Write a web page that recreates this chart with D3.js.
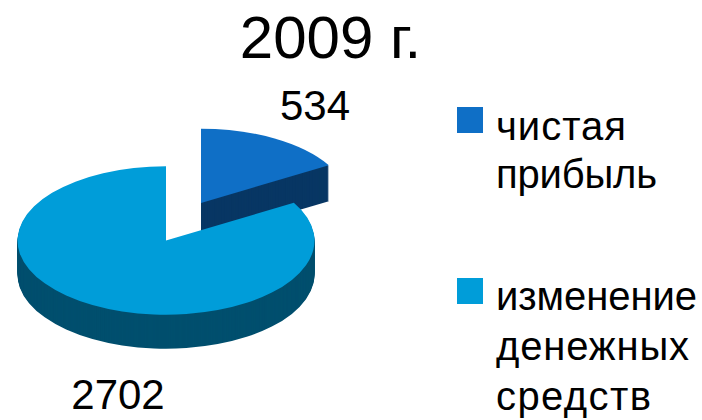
<!DOCTYPE html>
<html>
<head>
<meta charset="utf-8">
<script src="https://cdn.jsdelivr.net/npm/d3@7"></script>
<style>
  html, body { margin: 0; padding: 0; background: #fff; }
  svg { display: block; }
  text { font-family: "Liberation Sans", Arial, sans-serif; fill: #000; }
</style>
</head>
<body>
<svg id="canvas" width="702" height="420"></svg>
<script>
'use strict';

const title = '2009 г.';
const categories = ['чистая прибыль', 'изменение денежных средств'];
const values = [534, 2702];
const legendLines = [['чистая', 'прибыль'], ['изменение', 'денежных', 'средств']];
const topColors = ['#0f6fc6', '#009dd9'];
const sideColors = ['#083764', '#004f6e'];

const width = 702, height = 420;
const radius = 148.5;
const tilt = 0.5;

/* each slice has its own centre, the small one is pulled out of the pie */
const centers = [{x: 201, y: 203, depth: 36}, {x: 166, y: 240.5, depth: 34}];
const labelPos = [{x: 315, y: 120}, {x: 118, y: 409}];

const svg = d3.select('#canvas');
const topColor = d3.scaleOrdinal().domain(categories).range(topColors);
const sideColor = d3.scaleOrdinal().domain(categories).range(sideColors);

const pie = d3.pie().sort(null).value(d => d.value);
const slices = pie(categories.map((c, i) => ({name: c, value: values[i]})));
const arc = d3.arc().innerRadius(0).outerRadius(radius);

/* title */
svg.append('text')
  .attr('x', 330.5).attr('y', 58)
  .attr('text-anchor', 'middle')
  .style('font-size', '60px')
  .text(title);

/* pie: the side wall is a stack of copies of the slice, the top goes last */
slices.forEach((s, i) => {
  const c = centers[i];
  const g = svg.append('g').attr('class', 'slice');
  d3.range(c.depth, 0, -1).forEach(dy => {
    g.append('path')
      .attr('d', arc(s))
      .attr('transform', `translate(${c.x},${c.y + dy}) scale(1,${tilt})`)
      .attr('fill', sideColor(s.data.name));
  });
  g.append('path')
    .attr('d', arc(s))
    .attr('transform', `translate(${c.x},${c.y}) scale(1,${tilt})`)
    .attr('fill', topColor(s.data.name));
});

/* data labels */
svg.selectAll('text.value')
  .data(values)
  .join('text')
  .attr('class', 'value')
  .attr('x', (d, i) => labelPos[i].x)
  .attr('y', (d, i) => labelPos[i].y)
  .attr('text-anchor', 'middle')
  .style('font-size', '42px')
  .text(d => d);

/* legend */
const legendTop = [107, 278];
const lineY = [[140, 188], [310, 360, 410]];
/* the legend lines are spaced out unevenly, so each gets its own width */
const lineWidth = [[130, 161], [201, 193, 155]];
const legend = svg.selectAll('g.legend')
  .data(categories)
  .join('g')
  .attr('class', 'legend');

legend.append('rect')
  .attr('x', 457)
  .attr('y', (d, i) => legendTop[i])
  .attr('width', 26).attr('height', 26)
  .attr('fill', d => topColor(d));

legend.each(function(d, i){
  d3.select(this).selectAll('text')
    .data(legendLines[i])
    .join('text')
    .attr('x', 496)
    .attr('y', (t, j) => lineY[i][j])
    .attr('textLength', (t, j) => lineWidth[i][j])
    .attr('lengthAdjust', 'spacing')
    .style('font-size', '40px')
    .text(t => t);
});
</script>
</body>
</html>
